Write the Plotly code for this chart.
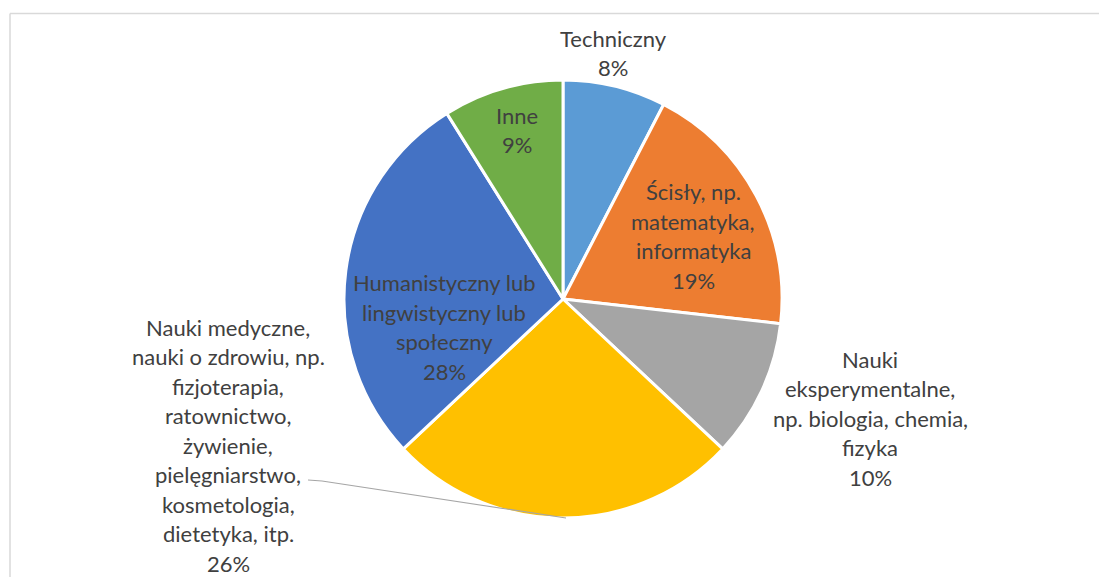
import plotly.graph_objects as go

W, H = 1099, 577

# ---- data ----
categories = [
    "Techniczny",
    "Ścisły, np.\nmatematyka,\ninformatyka",
    "Nauki\neksperymentalne,\nnp. biologia, chemia,\nfizyka",
    "Nauki medyczne,\nnauki o zdrowiu, np.\nfizjoterapia,\nratownictwo,\nżywienie,\npielęgniarstwo,\nkosmetologia,\ndietetyka, itp.",
    "Humanistyczny lub\nlingwistyczny lub\nspołeczny",
    "Inne",
]
values = [7.6, 19.2, 10.2, 26.0, 28.1, 8.9]
colors = ["#5B9BD5", "#ED7D31", "#A5A5A5", "#FFC000", "#4472C4", "#70AD47"]

# label anchor (center x px, middle y px) in reference pixels -- layout only
label_pos = [(613, 53), (693, 236), (870, 418), (228, 445), (444, 327), (517, 130)]
LINE_H = 29.5
FONT = dict(family="Lato, 'Open Sans', sans-serif", size=22, color="#404040")

cx, cy, r = 563, 299, 219


def px(x):
    return x / W


def py(y):
    return 1 - y / H


fig = go.Figure(go.Pie(
    labels=[c.replace("\n", " ") for c in categories],
    values=values,
    marker=dict(colors=colors, line=dict(color="white", width=3)),
    sort=False, direction="clockwise", rotation=0,
    textinfo="none", showlegend=False,
    domain=dict(x=[px(cx - r), px(cx + r)], y=[py(cy + r), py(cy - r)]),
))

total = sum(values)
annotations = []
for cat, v, (lx, ly) in zip(categories, values, label_pos):
    lines = cat.split("\n") + [f"{round(v / total * 100)}%"]
    n = len(lines)
    for i, t in enumerate(lines):
        ypx = ly + (i - (n - 1) / 2) * LINE_H
        annotations.append(dict(
            x=px(lx), y=py(ypx), xref="paper", yref="paper",
            text=t, showarrow=False, font=FONT, xanchor="center", yanchor="middle",
        ))

frame = dict(color="#D9D9D9", width=1.5)
shapes = [
    # chart-area frame: only top and left edges are visible in the crop
    dict(type="line", xref="paper", yref="paper",
         x0=px(10), x1=1.05, y0=py(13.5), y1=py(13.5), line=frame),
    dict(type="line", xref="paper", yref="paper",
         x0=px(10), x1=px(10), y0=py(13.5), y1=-0.1, line=frame),
    # leader line for the medical-sciences label
    dict(type="path", xref="paper", yref="paper",
         path=f"M {px(308)},{py(480)} L {px(322)},{py(481)} L {px(566)},{py(518)}",
         line=dict(color="#A6A6A6", width=1.2)),
]

fig.update_layout(
    width=W, height=H,
    margin=dict(l=0, r=0, t=0, b=0),
    paper_bgcolor="white", plot_bgcolor="white",
    annotations=annotations, shapes=shapes,
)

fig.write_html(
    "out.html",
    config={"displayModeBar": False},
    post_script="document.body.style.margin='0';document.body.style.overflow='hidden';",
)
